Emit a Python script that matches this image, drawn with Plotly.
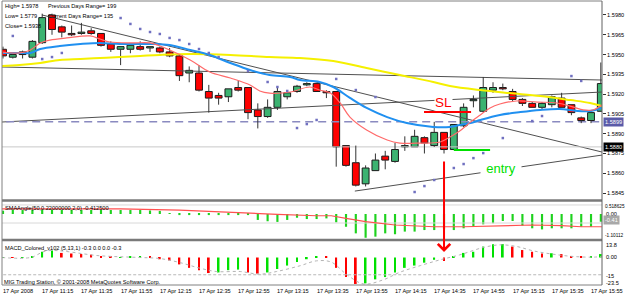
import plotly.graph_objects as go

# ---------------- data ----------------
bar_index = list(range(62))  # 5-minute bars, 10:55 .. 16:00, 17 Apr 2008

opens  = [1.5954,1.5948,1.5952,1.5948,1.5959,1.5980,1.5971,1.5966,1.5966,1.5968,
          1.5966,1.5958,1.5954,1.5954,1.5956,1.5955,1.5955,1.5952,1.5949,1.5936,
          1.5936,1.5922,1.5919,1.5918,1.5925,1.5925,1.5908,1.5903,1.5910,1.5918,
          1.5922,1.5927,1.5928,1.5922,1.5922,1.5881,1.5868,1.5852,1.5862,1.5873,
          1.5869,1.5880,1.5880,1.5887,1.5881,1.5891,1.5878,1.5896,1.5915,1.5907,
          1.5923,1.5925,1.5922,1.5916,1.5913,1.5910,1.5912,1.5917,1.5912,1.5902,
          1.5900,1.5907]
highs  = [1.5956,1.5951,1.5953,1.5961,1.5981,1.5981,1.5972,1.5972,1.5974,1.5970,
          1.5966,1.5960,1.5956,1.5958,1.5960,1.5956,1.5956,1.5955,1.5950,1.5941,
          1.5942,1.5927,1.5921,1.5924,1.5930,1.5925,1.5913,1.5916,1.5925,1.5922,
          1.5927,1.5929,1.5928,1.5923,1.5922,1.5881,1.5881,1.5866,1.5875,1.5877,
          1.5883,1.5888,1.5893,1.5888,1.5899,1.5891,1.5897,1.5913,1.5919,1.5933,
          1.5929,1.5928,1.5924,1.5917,1.5914,1.5914,1.5919,1.5921,1.5912,1.5903,
          1.5907,1.5944]
lows   = [1.5947,1.5947,1.5947,1.5947,1.5958,1.5965,1.5963,1.5964,1.5965,1.5965,
          1.5956,1.5952,1.5942,1.5951,1.5953,1.5952,1.5951,1.5948,1.5930,1.5929,
          1.5922,1.5906,1.5912,1.5914,1.5922,1.5901,1.5894,1.5902,1.5908,1.5916,
          1.5921,1.5926,1.5922,1.5917,1.5865,1.5865,1.5850,1.5850,1.5862,1.5863,
          1.5868,1.5877,1.5880,1.5875,1.5880,1.5875,1.5878,1.5895,1.5910,1.5906,
          1.5921,1.5923,1.5914,1.5911,1.5910,1.5908,1.5910,1.5910,1.5904,1.5898,
          1.5898,1.5907]
closes = [1.5949,1.5950,1.5950,1.5960,1.5978,1.5969,1.5967,1.5965,1.5967,1.5966,
          1.5957,1.5954,1.5956,1.5957,1.5954,1.5956,1.5952,1.5949,1.5934,1.5938,
          1.5923,1.5917,1.5917,1.5924,1.5923,1.5906,1.5903,1.5910,1.5922,1.5921,
          1.5926,1.5928,1.5922,1.5921,1.5880,1.5866,1.5851,1.5864,1.5870,1.5870,
          1.5878,1.5881,1.5888,1.5883,1.5891,1.5878,1.5897,1.5910,1.5916,1.5925,
          1.5925,1.5924,1.5916,1.5913,1.5910,1.5913,1.5918,1.5910,1.5906,1.5900,
          1.5906,1.5928]

ma_fast_x = [0,1.7,2.8,3.8,4.8,6.5,8.9,9.9,10.9,13.3,15,17,19.1,21.1,23.2,25.2,26.2,27.2,
             29.3,31.3,32.3,33.4,34.4,35.4,37.1,39.2,40.5,42.6,44.6,45.6,46.6,47.7,48.7,
             49.7,50.7,52.4,54.5,56.5,58.2,59.2,60.2,61.1]
ma_fast   = [1.59519,1.59512,1.59535,1.59588,1.59610,1.59626,1.59641,1.59618,1.59595,1.59588,
             1.59588,1.59535,1.59459,1.59368,1.59322,1.59269,1.59224,1.59208,1.59216,1.59254,
             1.59231,1.59208,1.59133,1.59026,1.58928,1.58852,1.58829,1.58829,1.58837,1.58875,
             1.58920,1.58988,1.59042,1.59095,1.59125,1.59148,1.59140,1.59133,1.59102,1.59080,
             1.59080,1.59117]
ma_mid_x  = [0,1.7,2.8,3.8,5.8,7.9,9.9,11.9,14,15.3,17,19.1,21.1,23.2,25.2,27.2,29.3,30.3,
             32.3,33.7,35.4,37.1,39.2,41.2,43.9,45.6,46.6,47.7,48.7,50.7,52.8,54.8,56.8,
             58.6,59.9,61.1]
ma_mid    = [1.59512,1.59512,1.59512,1.59542,1.59565,1.59580,1.59588,1.59580,1.59580,1.59580,
             1.59572,1.59535,1.59497,1.59436,1.59383,1.59345,1.59330,1.59307,1.59292,1.59254,
             1.59171,1.59095,1.59026,1.58981,1.58951,1.58951,1.58966,1.58981,1.59004,1.59042,
             1.59064,1.59080,1.59087,1.59072,1.59072,1.59095]
ma_slow_x = [-0.3,1.7,3.8,5.8,7.9,9.9,11.9,14,16,19.1,23.2,27.2,30.3,33.7,37.1,40.5,43.9,
             45.6,48.7,51.7,54.8,57.9,59.9,61.1]
ma_slow   = [1.59413,1.59421,1.59436,1.59459,1.59466,1.59474,1.59481,1.59489,1.59497,1.59504,
             1.59497,1.59481,1.59474,1.59451,1.59398,1.59345,1.59292,1.59262,1.59231,1.59208,
             1.59186,1.59155,1.59133,1.59110]

sar_x = [1,4,5,6,12,13,14,15,16,17,18,19,20,21,22,25,27,28,29,30,31,32,34,36,38,
         42,43,44,46,47,48,49,51,54,55,58,59]
sar   = [1.59641,1.59466,1.59481,1.59512,1.59777,1.59732,1.59694,1.59671,1.59656,1.59626,
         1.59610,1.59580,1.59542,1.59512,1.59481,1.59375,1.59292,1.59254,1.59224,1.58943,
         1.58973,1.59004,1.59315,1.59231,1.59178,1.58458,1.58503,1.58549,1.58640,1.58670,
         1.58715,1.58753,1.58867,1.58996,1.59034,1.59337,1.59300]

# user-drawn trend lines: (index0, price0, index1, price1)
trend_lines = [(3.98, 1.59800, 61.12, 1.58761),
               (-0.31, 1.59406, 61.12, 1.59307),
               (-0.31, 1.58988, 61.12, 1.59216),
               (35.9, 1.58465, 61.12, 1.58738)]
bid_level = 1.5899
level_1880 = 1.5880
sl_line = (42.96, 47.76, 1.59064)
entry_line = (46.0, 49.7, 1.58776)
sl_text_pos = (44.9, 1.59140)
entry_text_pos = (50.8, 1.58640)
arrow_index = 45.0

sma_angle_hist = [0.15,0.2,0.18,0.2,0.2,0.2,0.18,0.18,0.18,0.18,0.18,0.18,0.18,0.18,0.18,0.16,0.14,
                  0.02,-0.05,-0.05,-0.05,-0.05,-0.05,-0.05,-0.05,-0.05,
                  -0.27,-0.33,-0.36,-0.27,-0.17,-0.23,-0.23,-0.2,-0.38,-0.58,-0.88,-1.08,-1.03,
                  -0.88,-0.92,-0.8,-0.8,-0.73,-0.73,-0.7,-0.73,-0.65,-0.58,-0.47,-0.42,-0.32,
                  -0.32,-0.53,-0.65,-0.7,-0.65,-0.65,-0.65,-0.58,-0.58,-0.35]
sma_angle_line_x = [-0.1,12,18,24,28,32,33.5,35,37,40,44,47,51,54,57,59,61.1]
sma_angle_line   = [0.23,0.23,0.18,0.05,-0.02,-0.08,-0.08,-0.2,-0.35,-0.5,-0.58,-0.58,
                    -0.53,-0.5,-0.53,-0.58,-0.58]
sma_levels = [0.41, -0.41]

macd_hist = [0.3,0.3,0.3,1.2,5,6,4,3.5,3,2.5,1.2,0.5,0.3,0.8,1.2,1.0,-1.5,-2.5,-6,-9,
             -11,-13.5,-13,-11,-10.5,-13,-14,-13,-10,-7,-4,-1.5,0.5,0.5,-9,-17,-23,-22.5,
             -19,-17,-13,-9,-7,-4.5,-2,-3,0.5,4,5,9.5,11.5,11.7,9.5,6.5,5,3.5,3.7,3,0.5,
             1,1,3]
macd_colors = list("grggggrrrrrrgggrrrrrrrgggrrggggggrrrrggggggggrgggggg" "rrrrgrrrgg")
macd_signal_x = [-0.1,2.8,4.5,9.9,14,16,18,20.1,21.8,24.2,26.2,27.9,30.3,32,33.5,35.1,36.8,
                 38.8,40.5,42.6,44.6,46.6,49,50.7,52.4,54.1,56.1,58.2,60.2,61.1]
macd_signal   = [0,0,5.8,1.5,0,-0.9,-4.3,-9.3,-12.2,-12.2,-14.5,-12.2,-7.2,-2.9,-4,-15,-23,
                 -19.4,-12.8,-7,-2,2.3,8.7,11,9.6,5.8,2.9,0.9,0.3,0.9]
macd_level = -15

xtick_index  = [0,4,8,12,16,20,24,28,32,36,40,44,48,52,56,60]
xtick_labels = ["17 Apr 2008","17 Apr 11:15","17 Apr 11:35","17 Apr 11:55","17 Apr 12:15",
                "17 Apr 12:35","17 Apr 12:55","17 Apr 13:15","17 Apr 13:35","17 Apr 13:55",
                "17 Apr 14:15","17 Apr 14:35","17 Apr 14:55","17 Apr 15:15","17 Apr 15:35",
                "17 Apr 15:55"]
price_ticks = [1.5845,1.5860,1.5875,1.5890,1.5905,1.5920,1.5935,1.5950,1.5965,1.5980]

# ---------------- figure ----------------
W, H = 625, 298
ML, MR, MT, MB = 2, 23, 1, 13
PH = H - MT - MB
def py(ypix):  # pixel row -> paper fraction
    return (H - MB - ypix) / PH
def px(xpix):
    return (xpix - ML) / (W - ML - MR)

FONT = "Liberation Sans, Arial, sans-serif"
GREEN_BODY = "#3CB371"
RED = "#FF0000"

fig = go.Figure()

# trend lines / levels (as traces under candles)
for (x0, y0, x1, y1) in trend_lines:
    fig.add_trace(go.Scatter(x=[x0, x1], y=[y0, y1], mode="lines",
                             line=dict(color="#505050", width=1), hoverinfo="skip"))
fig.add_trace(go.Scatter(x=[-1, 62], y=[bid_level, bid_level], mode="lines",
                         line=dict(color="#8A8AC0", width=1.5, dash="8px,5px"), hoverinfo="skip"))
fig.add_trace(go.Scatter(x=[-1, 62], y=[level_1880, level_1880], mode="lines",
                         line=dict(color="#C8C8C8", width=1), hoverinfo="skip"))

# candles
body_base = [min(o, c) for o, c in zip(opens, closes)]
body_h = [abs(c - o) for o, c in zip(opens, closes)]
body_col = [GREEN_BODY if c >= o else RED for o, c in zip(opens, closes)]
fig.add_trace(go.Bar(x=bar_index, y=body_h, base=body_base, width=0.7,
                     marker=dict(color=body_col, line=dict(color="#1a1a1a", width=1)),
                     hoverinfo="skip"))
wx, wy = [], []
for i, o, h, l, c in zip(bar_index, opens, highs, lows, closes):
    top, bot = max(o, c), min(o, c)
    if h > top:
        wx += [i, i, None]; wy += [top, h, None]
    if l < bot:
        wx += [i, i, None]; wy += [l, bot, None]
fig.add_trace(go.Scatter(x=wx, y=wy, mode="lines", line=dict(color="#333333", width=1),
                         hoverinfo="skip"))

# moving averages
fig.add_trace(go.Scatter(x=ma_slow_x, y=ma_slow, mode="lines", line=dict(color="#F5F000", width=2, shape="spline"), hoverinfo="skip"))
fig.add_trace(go.Scatter(x=ma_mid_x, y=ma_mid, mode="lines", line=dict(color="#2090F0", width=2, shape="spline"), hoverinfo="skip"))
fig.add_trace(go.Scatter(x=ma_fast_x, y=ma_fast, mode="lines", line=dict(color="#FF6A6A", width=1.2, shape="spline"), hoverinfo="skip"))

# parabolic SAR dots
fig.add_trace(go.Scatter(x=sar_x, y=sar, mode="markers",
                         marker=dict(color="#7070C0", size=2.5, symbol="square"), hoverinfo="skip"))

# SL / entry lines
fig.add_trace(go.Scatter(x=[sl_line[0], sl_line[1]], y=[sl_line[2]] * 2, mode="lines",
                         line=dict(color=RED, width=2), hoverinfo="skip"))
fig.add_trace(go.Scatter(x=[entry_line[0], entry_line[1]], y=[entry_line[2]] * 2, mode="lines",
                         line=dict(color="#00E000", width=2), hoverinfo="skip"))

# SMAAngle panel
for lv in sma_levels:
    fig.add_trace(go.Scatter(x=[-1, 62], y=[lv, lv], mode="lines", yaxis="y2",
                             line=dict(color="#D8D8D8", width=1), hoverinfo="skip"))
fig.add_trace(go.Bar(x=bar_index, y=sma_angle_hist, yaxis="y2", width=0.22,
                     marker=dict(color="#1ED21E", line=dict(width=0)), hoverinfo="skip"))
fig.add_trace(go.Scatter(x=sma_angle_line_x, y=sma_angle_line, yaxis="y2", mode="lines",
                         line=dict(color="#FF5050", width=1.2), hoverinfo="skip"))

# MACD panel
fig.add_trace(go.Scatter(x=[-1, 62], y=[macd_level] * 2, yaxis="y3", mode="lines",
                         line=dict(color="#B8B8B8", width=1, dash="3px,2px"), hoverinfo="skip"))
fig.add_trace(go.Bar(x=bar_index, y=macd_hist, yaxis="y3", width=0.18,
                     marker=dict(color=["#00E000" if c == "g" else RED for c in macd_colors],
                                 line=dict(width=0)), hoverinfo="skip"))
fig.add_trace(go.Scatter(x=macd_signal_x, y=macd_signal, yaxis="y3", mode="lines",
                         line=dict(color="#B4B4B4", width=1, dash="dot", shape="spline"),
                         hoverinfo="skip"))

small = dict(family=FONT, size=5.6, color="black")
tiny = dict(family=FONT, size=4.7, color="black")

fig.update_layout(
    width=W, height=H, margin=dict(l=ML, r=MR, t=MT, b=MB),
    paper_bgcolor="white", plot_bgcolor="white", showlegend=False,
    barmode="overlay",
    xaxis=dict(range=[-0.102, 61.12], domain=[0, 1], anchor="y3", showgrid=False,
               zeroline=False, showticklabels=False, ticks=""),
    yaxis=dict(domain=[py(199), 1.0], range=[1.58405, 1.59906], side="right", anchor="x",
               tickvals=price_ticks, ticktext=[f"{v:.4f}" for v in price_ticks],
               ticks="outside", ticklen=3, tickcolor="#333", tickfont=small,
               showgrid=False, zeroline=False),
    yaxis2=dict(domain=[py(238), py(202)], range=[-1.091, 0.545], anchor="x", side="right",
                showticklabels=False, showgrid=False, zeroline=False),
    yaxis3=dict(domain=[0, py(242)], range=[-23.9, 13.48], anchor="x", side="right",
                showticklabels=False, showgrid=False, zeroline=False),
)

shapes = []
def hline(ypix, color, width):
    shapes.append(dict(type="line", xref="paper", yref="paper", x0=0, x1=1,
                       y0=py(ypix), y1=py(ypix), line=dict(color=color, width=width)))
hline(1, "#808080", 1)
hline(200.5, "#7A7A7A", 2.5)
hline(240, "#7A7A7A", 2.5)
hline(285, "#808080", 1)
shapes.append(dict(type="line", xref="paper", yref="paper", x0=0, x1=0, y0=0, y1=1,
                   line=dict(color="#808080", width=1)))
shapes.append(dict(type="line", xref="paper", yref="paper", x0=1, x1=1, y0=0, y1=1,
                   line=dict(color="#606060", width=1)))
fig.update_layout(shapes=shapes)

ann = []
def txt(xpix, ypix, s, font=small, **kw):
    ann.append(dict(x=px(xpix), y=py(ypix), xref="paper", yref="paper", text=s,
                    showarrow=False, xanchor="left", yanchor="middle", font=font, **kw))

txt(3, 6, "High= 1.5978")
txt(46, 6, "Previous Days Range= 199")
txt(3, 16, "Low= 1.5779")
txt(46, 16, "Current Days Range= 135")
txt(3, 26, "Close= 1.5938")
txt(3, 208, "SMAAngle(50,0.22000000,2,0) -0.412500")
txt(3, 248, "MACD_Colored_v102 (5,13,1) -0.3 0.0 0.0 -0.3")
txt(2, 282, "MIG Trading Station, \u00a9 2001-2008 MetaQuotes Software Corp.")

# right-side labels for sub panels
for yp, s in [(214, "0.00"), (245, "13.8"), (257, "0.00"), (276, "-15"), (283, "-23.5")]:
    txt(604, yp, s)
for yp, s in [(207, "0.518625"), (235, "-1.10112")]:
    txt(602.5, yp, s, font=tiny)
ann.append(dict(x=px(603), y=py(220), xref="paper", yref="paper", text="-0.41",
                showarrow=False, xanchor="left", yanchor="middle",
                font=dict(family=FONT, size=5.6, color="white"), bgcolor="#A8A8A8", borderpad=1))

# boxed price labels
ann.append(dict(x=px(603), y=bid_level, xref="paper", yref="y", text="1.5899", showarrow=False,
                xanchor="left", yanchor="middle", font=dict(family=FONT, size=5.6, color="white"),
                bgcolor="#5A5AA8", borderpad=1))
ann.append(dict(x=px(603), y=level_1880, xref="paper", yref="y", text="1.5880", showarrow=False,
                xanchor="left", yanchor="middle", font=dict(family=FONT, size=5.6, color="white"),
                bgcolor="#000000", borderpad=1))

# x tick labels
for i, s in zip(xtick_index, xtick_labels):
    ann.append(dict(x=i, y=py(290.5), xref="x", yref="paper", text=s, showarrow=False,
                    xanchor="left", yanchor="middle", xshift=-2, font=small))

# SL / entry texts and arrow
ann.append(dict(x=sl_text_pos[0], y=sl_text_pos[1], xref="x", yref="y", text="SL",
                showarrow=False, font=dict(family=FONT, size=13.5, color=RED),
                bgcolor="white", borderpad=0))
ann.append(dict(x=entry_text_pos[0], y=entry_text_pos[1], xref="x", yref="y", text="entry",
                showarrow=False, font=dict(family=FONT, size=13, color="#00E000"),
                bgcolor="white", width=38, height=15))
ann.append(dict(x=arrow_index, y=py(252), xref="x", yref="paper", ax=0, ay=-92,
                axref="pixel", ayref="pixel", text="", showarrow=True, arrowhead=4,
                arrowsize=1.2, arrowwidth=2, arrowcolor=RED))

fig.update_layout(annotations=ann)
fig.write_html("out.html")
